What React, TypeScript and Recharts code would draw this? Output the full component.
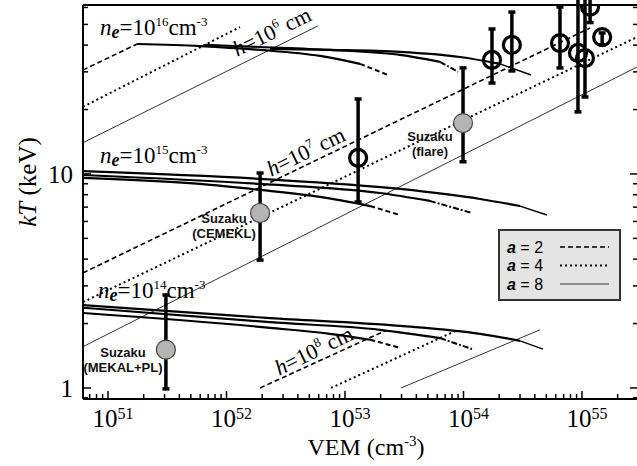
import React from "react";
import { ComposedChart, Line, Scatter, XAxis, YAxis, ErrorBar } from "recharts";

const SERIF = '"Liberation Serif", "Times New Roman", serif';
const SANS = '"Liberation Sans", Arial, sans-serif';

// axis ranges: emission measure (cm^-3) and temperature (keV)
const vemDomain = [6.15e50, 2.97e55];
const ktDomain = [0.888, 61.6];
const vemDecades = [1e50, 1e51, 1e52, 1e53, 1e54, 1e55];
const ktDecades = [0.1, 1, 10];
const minorSteps = [1, 2, 3, 4, 5, 6, 7, 8, 9];

// constant-density tracks [VEM, kT]
const ne16a2 = [[1.76e51, 40.5], [5.97e51, 39.6], [1.92e52, 38.0], [6.15e52, 35.6], [1.34e53, 32.7], [2.31e53, 29.0]];
const ne16a4 = [[6.59e51, 40.1], [1.92e52, 39.2], [7.46e52, 38.0], [2.91e53, 36.0], [6.34e53, 33.4], [9.0e53, 30.0]];
const ne16a8 = [[2.33e52, 38.4], [7.46e52, 38.0], [2.91e53, 37.2], [9.34e53, 35.2], [2.03e54, 32.7], [3.72e54, 29.0]];
const ne15a2 = [[6.15e50, 9.58], [5.97e51, 8.98], [1.92e52, 8.42], [6.15e52, 7.81], [1.63e53, 7.08], [2.91e53, 6.43]];
const ne15a4 = [[6.15e50, 9.89], [1.92e52, 8.98], [1.97e53, 8.15], [5.21e53, 7.48], [1.18e54, 6.57]];
const ne15a8 = [[6.15e50, 10.3], [1.92e52, 9.48], [2.91e53, 8.51], [1.38e54, 7.64], [3.0e54, 7.08], [5.07e54, 6.43]];
const ne14a2 = [[6.15e50, 2.24], [2.33e52, 1.91], [7.46e52, 1.79], [1.63e53, 1.68], [2.91e53, 1.54]];
const ne14a4 = [[6.15e50, 2.37], [2.33e52, 2.03], [1.97e53, 1.87], [6.34e53, 1.71], [1.18e54, 1.52]];
const ne14a8 = [[6.15e50, 2.44], [2.33e52, 2.12], [2.91e53, 1.95], [1.38e54, 1.79], [3.0e54, 1.66], [4.69e54, 1.52]];

// constant loop height tracks [VEM, kT]
const h6a2 = [[6.15e50, 30.6], [1.76e51, 40.5]];
const h6a4 = [[6.15e50, 20.6], [1.3e52, 48.6]];
const h6a8 = [[6.15e50, 14.0], [5.92e52, 49.2]];
const h7a2 = [[6.15e50, 3.45], [1.17e55, 48.1]];
const h7a4 = [[6.15e50, 2.52], [2.91e55, 43.6]];
const h7a8 = [[6.15e50, 1.56], [2.91e55, 31.6]];
const h8a2 = [[1.92e52, 1.0], [2.18e53, 1.85]];
const h8a4 = [[7.62e52, 1.0], [9.0e53, 1.87]];
const h8a8 = [[2.97e53, 1.0], [4.43e54, 1.87]];

// observed flares: VEM, kT, lower and upper kT limits
const flareVem = [1.29e53, 1.74e54, 2.56e54, 6.52e54, 9.25e54, 1.06e55, 1.17e55, 1.48e55];
const flareKt = [11.9, 34.1, 40.1, 40.9, 36.8, 34.8, 60.5, 43.6];
const flareLo = [7.4, 26.6, 30.3, 31.3, 19.5, 22.9, 51, 40.1];
const flareHi = [22.4, 47.6, 57.1, 60.3, 70, 70, 70, 45.6];

// Suzaku fits
const suzakuNames = [["Suzaku", "(flare)"], ["Suzaku", "(CEMEKL)"], ["Suzaku", "(MEKAL+PL)"]];
const suzakuVem = [9.91e53, 1.92e52, 3.08e51];
const suzakuKt = [17.3, 6.57, 1.51];
const suzakuLo = [11.4, 3.96, 0.99];
const suzakuHi = [31.3, 10.1, 2.72];

const legendLabels = ["2", "4", "8"];

const styleFor: Record<number, { dash?: string; width: number; color: string }> = {
  2: { dash: "5 3", width: 1.6, color: "#000" },
  4: { dash: "2 3", width: 2, color: "#000" },
  8: { width: 1, color: "#333" },
};

const toXY = (pts: number[][]) => pts.map(([x, y]) => ({ x, y }));

const heightTracks = [
  { key: "h6a2", pts: h6a2, a: 2 },
  { key: "h6a4", pts: h6a4, a: 4 },
  { key: "h6a8", pts: h6a8, a: 8 },
  { key: "h7a2", pts: h7a2, a: 2 },
  { key: "h7a4", pts: h7a4, a: 4 },
  { key: "h7a8", pts: h7a8, a: 8 },
  { key: "h8a2", pts: h8a2, a: 2 },
  { key: "h8a4", pts: h8a4, a: 4 },
  { key: "h8a8", pts: h8a8, a: 8 },
];

const densityTracks = [
  { key: "ne16a2", pts: ne16a2, a: 2 },
  { key: "ne16a4", pts: ne16a4, a: 4 },
  { key: "ne16a8", pts: ne16a8, a: 8 },
  { key: "ne15a2", pts: ne15a2, a: 2 },
  { key: "ne15a4", pts: ne15a4, a: 4 },
  { key: "ne15a8", pts: ne15a8, a: 8 },
  { key: "ne14a2", pts: ne14a2, a: 2 },
  { key: "ne14a4", pts: ne14a4, a: 4 },
  { key: "ne14a8", pts: ne14a8, a: 8 },
];

const withErr = (vem: number[], kt: number[], lo: number[], hi: number[]) =>
  vem.map((x, i) => ({ x, y: kt[i], err: [kt[i] - lo[i], hi[i] - kt[i]] }));

const flarePoints = withErr(flareVem, flareKt, flareLo, flareHi);
const suzakuPoints = withErr(suzakuVem, suzakuKt, suzakuLo, suzakuHi);

const logTicks = (decades: number[], domain: number[]) =>
  decades
    .flatMap((d) => minorSteps.map((m) => m * d))
    .filter((v) => v >= domain[0] && v <= domain[1]);

const vemTicks = logTicks(vemDecades, vemDomain);
const ktTicks = logTicks(ktDecades, ktDomain);

const isDecade = (v: number) => Math.abs(Math.log10(v) - Math.round(Math.log10(v))) < 1e-6;

function BottomTick(props: any) {
  const { x, y, payload } = props;
  const major = isDecade(payload.value);
  return (
    <g>
      <line x1={x} x2={x} y1={y} y2={y - (major ? 8 : 5)} stroke="#000" strokeWidth={1.5} />
      {major && (
        <text x={x + 5} y={y + 28} textAnchor="middle" fontFamily={SERIF} fontSize={25} fill="#000">
          10
          <tspan fontSize={16} dy={-8}>
            {Math.round(Math.log10(payload.value))}
          </tspan>
        </text>
      )}
    </g>
  );
}

function TopTick(props: any) {
  const { x, y, payload } = props;
  const major = isDecade(payload.value);
  return <line x1={x} x2={x} y1={y} y2={y + (major ? 8 : 5)} stroke="#000" strokeWidth={1.5} />;
}

function LeftTick(props: any) {
  const { x, y, payload } = props;
  const major = isDecade(payload.value);
  return (
    <g>
      <line x1={x} x2={x + (major ? 8 : 5)} y1={y} y2={y} stroke="#000" strokeWidth={1.5} />
      {major && (
        <text x={x - 10} y={y + 9} textAnchor="end" fontFamily={SERIF} fontSize={25} fill="#000">
          {payload.value}
        </text>
      )}
    </g>
  );
}

function RightTick(props: any) {
  const { x, y, payload } = props;
  const major = isDecade(payload.value);
  return <line x1={x} x2={x - (major ? 8 : 5)} y1={y} y2={y} stroke="#000" strokeWidth={1.5} />;
}

const OpenCircle = (props: any) => (
  <circle cx={props.cx} cy={props.cy} r={8.5} fill="none" stroke="#000" strokeWidth={3.2} />
);

const GreyCircle = (props: any) => (
  <circle cx={props.cx} cy={props.cy} r={9.5} fill="#b4b4b4" stroke="#444" strokeWidth={1.2} />
);

function DensityLabel({ x, y, exp }: { x: number; y: number; exp: string }) {
  return (
    <text x={x} y={y} fontFamily={SERIF} fontSize={23} fill="#000">
      <tspan fontStyle="italic">n</tspan>
      <tspan fontStyle="italic" fontWeight="bold" fontSize={18} dy={3}>e</tspan>
      <tspan dy={-3}>=10</tspan>
      <tspan fontSize={13} dy={-9}>{exp}</tspan>
      <tspan dy={9}>cm</tspan>
      <tspan fontSize={13} dy={-9}>-3</tspan>
    </text>
  );
}

function HeightLabel({ x, y, exp }: { x: number; y: number; exp: string }) {
  return (
    <text transform={`translate(${x},${y}) rotate(-26)`} y={7} textAnchor="middle" fontFamily={SERIF} fontSize={22} fill="#000">
      <tspan fontStyle="italic">h</tspan>
      <tspan>=10</tspan>
      <tspan fontSize={13} dy={-9}>{exp}</tspan>
      <tspan dy={9}> cm</tspan>
    </text>
  );
}

function SuzakuLabel({ x, y, lines }: { x: number; y: number; lines: string[] }) {
  return (
    <text x={x} y={y} textAnchor="middle" fontFamily={SANS} fontSize={13} fontWeight="bold" fill="#111">
      <tspan x={x}>{lines[0]}</tspan>
      <tspan x={x} dy={15}>{lines[1]}</tspan>
    </text>
  );
}

export default function App() {
  const W = 640;
  const H = 466;
  return (
    <div style={{ position: "absolute", left: 0, top: 0, width: W, height: H, background: "#fff" }}>
      <ComposedChart width={W} height={H} margin={{ top: 4, right: 0, bottom: 7, left: 23 }}>
        <XAxis
          dataKey="x"
          type="number"
          scale="log"
          domain={vemDomain}
          allowDataOverflow
          ticks={vemTicks}
          interval={0}
          tickSize={0}
          tickMargin={0}
          tickLine={false}
          tick={BottomTick}
          height={60}
          axisLine={{ stroke: "#000", strokeWidth: 2 }}
        />
        <XAxis
          xAxisId="top"
          orientation="top"
          type="number"
          scale="log"
          domain={vemDomain}
          allowDataOverflow
          ticks={vemTicks}
          interval={0}
          tickSize={0}
          tickMargin={0}
          tickLine={false}
          tick={TopTick}
          height={1}
          axisLine={{ stroke: "#000", strokeWidth: 2 }}
        />
        <YAxis
          type="number"
          scale="log"
          domain={ktDomain}
          allowDataOverflow
          ticks={ktTicks}
          interval={0}
          tickSize={0}
          tickMargin={0}
          tickLine={false}
          tick={LeftTick}
          width={60}
          axisLine={{ stroke: "#000", strokeWidth: 2 }}
        />
        <YAxis
          yAxisId="right"
          orientation="right"
          type="number"
          scale="log"
          domain={ktDomain}
          allowDataOverflow
          ticks={ktTicks}
          interval={0}
          tickSize={0}
          tickMargin={0}
          tickLine={false}
          tick={RightTick}
          width={2}
          axisLine={{ stroke: "#000", strokeWidth: 2 }}
        />

        {heightTracks.map((t) => (
          <Line
            key={t.key}
            data={toXY(t.pts)}
            dataKey="y"
            type="linear"
            stroke={styleFor[t.a].color}
            strokeWidth={styleFor[t.a].width}
            strokeDasharray={styleFor[t.a].dash}
            dot={false}
            activeDot={false}
            isAnimationActive={false}
          />
        ))}

        {densityTracks.map((t) => (
          <Line
            key={t.key}
            data={toXY(t.pts.slice(0, -1))}
            dataKey="y"
            type="monotone"
            stroke="#000"
            strokeWidth={2.2}
            dot={false}
            activeDot={false}
            isAnimationActive={false}
          />
        ))}
        {densityTracks.map((t) => (
          <Line
            key={t.key + "-tail"}
            data={toXY(t.pts.slice(-2))}
            dataKey="y"
            type="linear"
            stroke="#000"
            strokeWidth={t.a === 8 ? 1.4 : 2}
            strokeDasharray={t.a === 2 ? "5 3" : t.a === 4 ? "6 2 2 2" : undefined}
            dot={false}
            activeDot={false}
            isAnimationActive={false}
          />
        ))}

        <Scatter data={suzakuPoints} dataKey="y" shape={GreyCircle} isAnimationActive={false}>
          <ErrorBar dataKey="err" direction="y" width={3.5} strokeWidth={3.5} stroke="#000" />
        </Scatter>
        <Scatter data={flarePoints} dataKey="y" shape={OpenCircle} isAnimationActive={false}>
          <ErrorBar dataKey="err" direction="y" width={3.5} strokeWidth={3.5} stroke="#000" />
        </Scatter>
      </ComposedChart>

      <svg width={W} height={H} style={{ position: "absolute", left: 0, top: 0, pointerEvents: "none" }}>
        <DensityLabel x={100} y={35} exp="16" />
        <DensityLabel x={100} y={163} exp="15" />
        <DensityLabel x={98} y={298} exp="14" />

        <HeightLabel x={272} y={32} exp="6" />
        <HeightLabel x={306} y={152} exp="7" />
        <HeightLabel x={314} y={351} exp="8" />

        <SuzakuLabel x={430} y={141} lines={suzakuNames[0]} />
        <SuzakuLabel x={224} y={223} lines={suzakuNames[1]} />
        <SuzakuLabel x={123} y={357} lines={suzakuNames[2]} />

        <g>
          <rect x={499} y={230} width={121} height={70} fill="#e4e4e4" stroke="#333" strokeWidth={2} />
          {legendLabels.map((lab, i) => {
            const cy = 247 + i * 18.5;
            const s = styleFor[Number(lab)];
            return (
              <g key={lab}>
                <text x={507} y={cy + 5.5} fontFamily={SANS} fontSize={16} fill="#000">
                  <tspan fontWeight="bold" fontStyle="italic">a</tspan>
                  <tspan> = {lab}</tspan>
                </text>
                <line x1={560} x2={609} y1={cy} y2={cy} stroke={s.color} strokeWidth={s.width} strokeDasharray={s.dash} />
              </g>
            );
          })}
        </g>

        <text transform="translate(36,182) rotate(-90)" textAnchor="middle" fontFamily={SERIF} fontSize={25} fill="#000">
          <tspan fontStyle="italic">kT</tspan>
          <tspan> (keV)</tspan>
        </text>
        <text x={366} y={455} textAnchor="middle" fontFamily={SERIF} fontSize={24} fill="#000">
          VEM (cm
          <tspan fontSize={15} dy={-9}>-3</tspan>
          <tspan dy={9}>)</tspan>
        </text>
      </svg>
    </div>
  );
}
